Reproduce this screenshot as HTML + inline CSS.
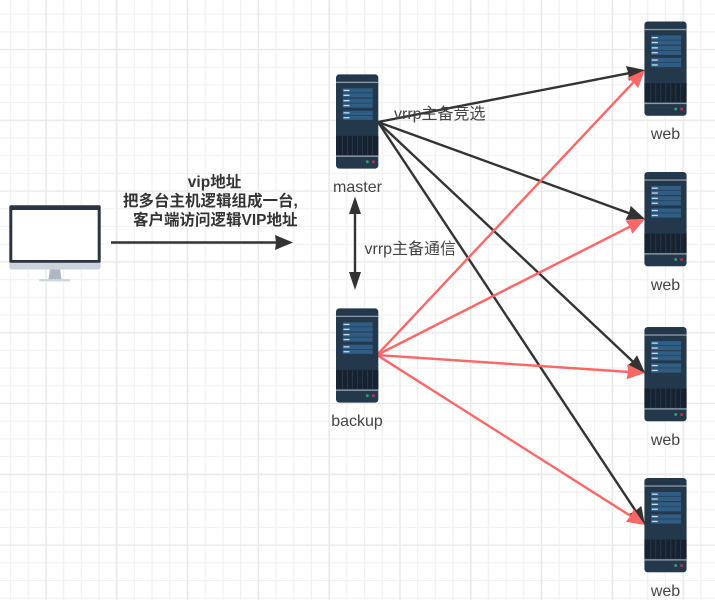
<!DOCTYPE html>
<html><head><meta charset="utf-8"><style>
html,body{margin:0;padding:0;background:#fff}
svg{display:block}
text{font-family:"Liberation Sans","Noto Sans CJK SC",sans-serif;fill:#444}
</style></head><body>
<svg width="715" height="600" viewBox="0 0 715 600" xmlns="http://www.w3.org/2000/svg">
<defs>
<pattern id="g" x="1.65" y="5.25" width="17.7" height="17.7" patternUnits="userSpaceOnUse"><path d="M8.85 0V17.7M0 8.85H17.7" stroke="#f1f1f1" stroke-width="1.3" fill="none"/></pattern>
<pattern id="G" x="10.6" y="14.1" width="70.8" height="70.8" patternUnits="userSpaceOnUse"><path d="M35.4 0V70.8M0 35.4H70.8" stroke="#e8e8e8" stroke-width="1.3" fill="none"/></pattern>
<marker id="k" markerUnits="userSpaceOnUse" markerWidth="20" markerHeight="16" refX="3" refY="7.5" orient="auto"><path d="M0 0L18 7.5L0 15L1 7.5Z" fill="#333"/></marker>
<marker id="r" markerUnits="userSpaceOnUse" markerWidth="20" markerHeight="16" refX="3" refY="7.5" orient="auto"><path d="M0 0L18 7.5L0 15L1 7.5Z" fill="#f66"/></marker>
<symbol id="s" width="42.4" height="94.4" viewBox="0 0 42.4 94.4">
<rect width="42.4" height="94.4" rx="3.5" fill="#24384b"/>
<rect y="7.4" width="42.4" height="1.3" fill="#8e9aa6"/>
<rect y="81.2" width="42.4" height="1.4" fill="#8e9aa6"/>
<rect y="61.6" width="42.4" height="19" fill="#16222f"/>
<path d="M6.5 61.6V80.6M11.5 61.6V80.6M16.5 61.6V80.6M21.5 61.6V80.6M26.5 61.6V80.6M31.5 61.6V80.6M36.5 61.6V80.6" stroke="#2b3d50" stroke-width=".8"/>
<g fill="#2f5d84">
<rect x="6.7" y="14" width="30" height="4.3"/><rect x="6.7" y="18.9" width="30" height="4.3"/>
<rect x="6.7" y="24.2" width="30" height="4.3"/><rect x="6.7" y="29.1" width="30" height="4.3"/>
<rect x="6.7" y="36.4" width="30" height="4.3"/><rect x="6.7" y="41.3" width="30" height="4.3"/>
</g>
<g fill="#cfdbe6">
<rect x="7.5" y="15.5" width="6" height="1.3"/><rect x="7.5" y="20.4" width="6" height="1.3"/>
<rect x="7.5" y="25.7" width="6" height="1.3"/><rect x="7.5" y="30.6" width="6" height="1.3"/>
<rect x="7.5" y="37.9" width="6" height="1.3"/><rect x="7.5" y="42.8" width="6" height="1.3"/>
</g>
<circle cx="31.4" cy="87.5" r="1.5" fill="#2e9e6b"/><circle cx="37.4" cy="87.5" r="1.5" fill="#b5324e"/>
</symbol>
</defs>
<rect width="715" height="600" fill="#fff"/>
<rect width="715" height="600" fill="url(#g)"/>
<rect width="715" height="600" fill="url(#G)"/>

<rect x="39.3" y="279" width="30.7" height="2.4" fill="#cfd6dd"/>
<path d="M50 269H60L61.5 279H48.5Z" fill="#aeb8c2"/>
<path d="M9.3 262H100.7V266.5a3 3 0 0 1-3 3H12.3a3 3 0 0 1-3-3Z" fill="#ccd3db"/>
<rect x="9.3" y="205.3" width="91.4" height="57.4" rx="1.5" fill="#2b3442"/>
<rect x="12.3" y="210" width="85.4" height="50" fill="#fff"/>

<g stroke-width="2.4" fill="none">
<g stroke="#333">
<path d="M378 122L630.3 72.9" marker-end="url(#k)"/>
<path d="M378 122L630.9 213.9" marker-end="url(#k)"/>
<path d="M378 122L634.1 362.7" marker-end="url(#k)"/>
<path d="M378 122L636.7 512.5" marker-end="url(#k)"/>
</g>
<g stroke="#f66">
<path d="M377 355L634.7 80.9" marker-end="url(#r)"/>
<path d="M377 355L631.6 225.8" marker-end="url(#r)"/>
<path d="M377 355L630 372" marker-end="url(#r)"/>
<path d="M377 355L632.3 517" marker-end="url(#r)"/>
</g>
<path d="M111 242.5H278" stroke="#333" marker-end="url(#k)"/>
<path d="M355 205V282" stroke="#333"/>
</g>
<path d="M355 196.5L361 214H349Z" fill="#333"/>
<path d="M355 290L361 272H349Z" fill="#333"/>

<use href="#s" x="336" y="74.3"/>
<use href="#s" x="336" y="308.3"/>
<use href="#s" x="644.3" y="21.5"/>
<use href="#s" x="644.3" y="172"/>
<use href="#s" x="644.3" y="327"/>
<use href="#s" x="644.3" y="478"/>

<g font-size="16" text-anchor="middle">
<text x="357.5" y="192">master</text>
<text x="357" y="426">backup</text>
<text x="665.5" y="139">web</text>
<text x="665.5" y="290">web</text>
<text x="665.5" y="445">web</text>
<text x="665.5" y="596">web</text>
</g>
<text x="394" y="119" font-size="16">vrrp主备竞选</text>
<text x="364.5" y="254" font-size="16">vrrp主备通信</text>
<text x="214.5" y="187" font-size="15.5" font-weight="bold" text-anchor="middle" style="fill:#333">vip地址</text>
<g font-size="15.5" font-weight="bold" style="fill:#333">
<text x="123" y="206" style="fill:#333">把多台主机逻辑组成一台,</text>
<text x="133" y="225" style="fill:#333">客户端访问逻辑VIP地址</text>
</g>
</svg>
</body></html>
